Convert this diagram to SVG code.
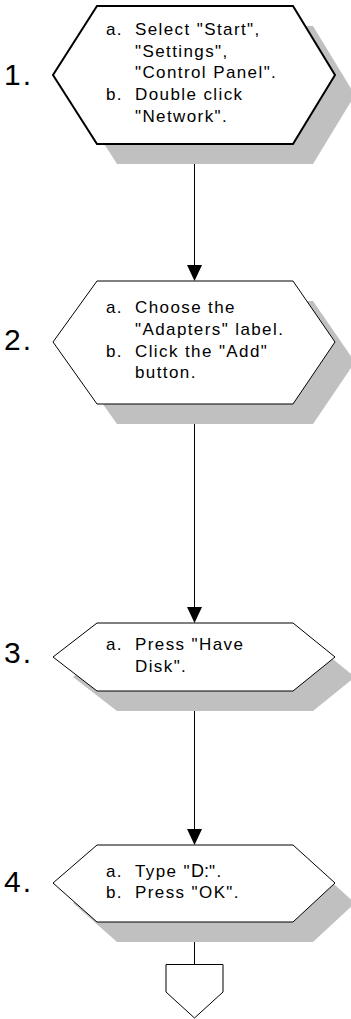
<svg xmlns="http://www.w3.org/2000/svg" width="351" height="1019" viewBox="0 0 351 1019">
<style>
.sh{fill:#c0c0c0;stroke:none}
.hx{fill:#fff;stroke:#000;stroke-width:1}
.hx1{fill:#fff;stroke:#000;stroke-width:2}
.t{font-family:"Liberation Sans",Arial,sans-serif;font-size:17px;letter-spacing:1.4px;fill:#000}
.n{font-family:"Liberation Sans",Arial,sans-serif;font-size:30px;letter-spacing:2px;fill:#000}
.ln{stroke:#000;stroke-width:1;fill:none}
.ah{fill:#000;stroke:none}
</style>
<rect width="351" height="1019" fill="#fff"/>
<g id="connectors">
<line class="ln" x1="194.5" y1="144" x2="194.5" y2="266"/>
<polygon class="ah" points="187,265 202,265 194.5,281"/>
<line class="ln" x1="194.5" y1="404" x2="194.5" y2="608"/>
<polygon class="ah" points="187,607 202,607 194.5,623"/>
<line class="ln" x1="194.5" y1="691" x2="194.5" y2="830"/>
<polygon class="ah" points="187,829 202,829 194.5,845"/>
<line class="ln" x1="194.5" y1="922" x2="194.5" y2="964"/>
</g>
<g id="step1">
<polygon class="sh" points="117,26 313,26 355,95 313,164 117,164 73,95"/>
<polygon class="hx1" points="97,6 293,6 335,75 293,144 97,144 53,75"/>
<text class="n" x="4" y="85">1.</text>
<text class="t" x="106" y="35">a.</text>
<text class="t" x="135" y="35">Select "Start",</text>
<text class="t" x="135" y="56.7">"Settings",</text>
<text class="t" x="135" y="78.3">"Control Panel".</text>
<text class="t" x="106" y="100">b.</text>
<text class="t" x="135" y="100">Double click</text>
<text class="t" x="135" y="121.7">"Network".</text>
</g>
<g id="step2">
<polygon class="sh" points="117,301 313,301 355,362 313,424 117,424 73,362"/>
<polygon class="hx" points="97,281 293,281 335,342 293,404 97,404 53,342"/>
<text class="n" x="4" y="350">2.</text>
<text class="t" x="106" y="313.3">a.</text>
<text class="t" x="135" y="313.3">Choose the</text>
<text class="t" x="135" y="335">"Adapters" label.</text>
<text class="t" x="106" y="356.7">b.</text>
<text class="t" x="135" y="356.7">Click the "Add"</text>
<text class="t" x="135" y="378.3">button.</text>
</g>
<g id="step3">
<polygon class="sh" points="117,643 313,643 355,677 313,711 117,711 73,677"/>
<polygon class="hx" points="97,623 293,623 335,657 293,691 97,691 53,657"/>
<text class="n" x="4" y="663">3.</text>
<text class="t" x="106" y="650">a.</text>
<text class="t" x="135" y="650">Press "Have</text>
<text class="t" x="135" y="671.7">Disk".</text>
</g>
<g id="step4">
<polygon class="sh" points="117,865 313,865 355,903 313,942 117,942 73,903"/>
<polygon class="hx" points="97,845 293,845 335,883 293,922 97,922 53,883"/>
<text class="n" x="4" y="891.7">4.</text>
<text class="t" x="106" y="876.7">a.</text>
<text class="t" x="135" y="876.7">Type "<tspan style="font-size:18px;letter-spacing:0">D:</tspan>".</text>
<text class="t" x="106" y="898.3">b.</text>
<text class="t" x="135" y="898.3">Press "OK".</text>
</g>
<g id="offpage">
<polygon class="hx" points="166,964.5 223,964.5 223,992 194.5,1018 166,992"/>
</g>
</svg>
